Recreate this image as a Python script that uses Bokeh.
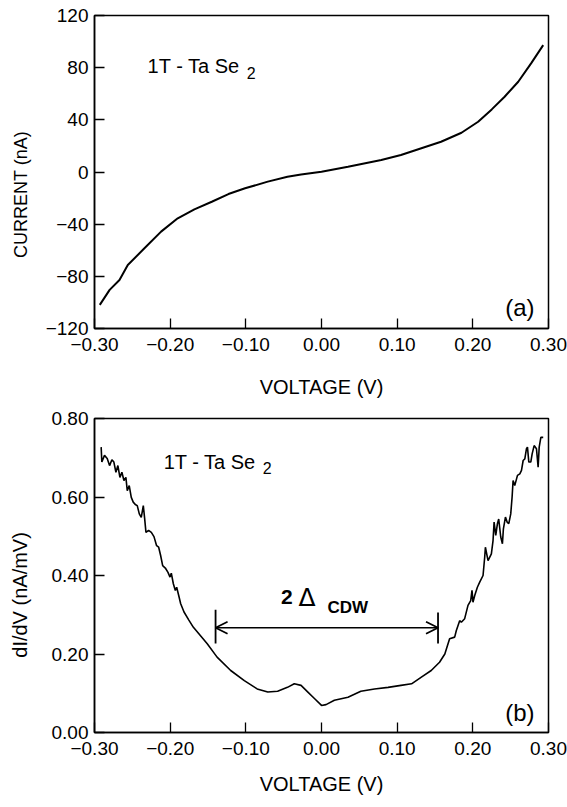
from bokeh.plotting import figure
from bokeh.layouts import column
from bokeh.models import Range1d, FixedTicker, Label, Arrow, OpenHead
from bokeh.embed import file_html
from bokeh.resources import INLINE

# ---------------- data ----------------
iv_voltage = [-0.293, -0.280, -0.267, -0.256, -0.234, -0.212, -0.190, -0.168, -0.145,
              -0.123, -0.101, -0.071, -0.045, -0.027, 0.000, 0.035, 0.079, 0.105,
              0.132, 0.158, 0.185, 0.207, 0.225, 0.242, 0.260, 0.277, 0.293]
iv_current = [-101.9, -90.4, -82.8, -71.3, -58.5, -45.7, -35.5, -28.6, -22.8,
              -16.9, -12.5, -7.4, -3.6, -2.0, 0.2, 4.0, 9.2, 13.0,
              18.2, 23.2, 30.1, 38.5, 48.0, 57.7, 69.2, 83.3, 97.3]

didv_voltage = [-0.2912, -0.2903, -0.2868, -0.2832, -0.2801, -0.2770, -0.2744, -0.2717,
                -0.2691, -0.2664, -0.2638, -0.2611, -0.2585, -0.2567, -0.2541, -0.2514,
                -0.2488, -0.2461, -0.2435, -0.2408, -0.2382, -0.2355, -0.2338, -0.2320,
                -0.2285, -0.2249, -0.2214, -0.2179, -0.2152, -0.2126, -0.2099, -0.2064,
                -0.2029, -0.2002, -0.1985, -0.1958, -0.1932, -0.1914, -0.1887, -0.1861,
                -0.1817, -0.1755, -0.1693, -0.151, -0.138, -0.120, -0.102, -0.085,
                -0.071, -0.058, -0.045, -0.036, -0.027, -0.018, -0.009, 0.000,
                0.006, 0.017, 0.035, 0.052, 0.070, 0.088, 0.105, 0.119,
                0.132, 0.145, 0.156, 0.163, 0.1693, 0.1760, 0.1782, 0.1826,
                0.1848, 0.1892, 0.1936, 0.1972, 0.1989, 0.2002, 0.2025, 0.2060,
                0.2091, 0.2135, 0.2157, 0.2166, 0.2201, 0.2245, 0.2267, 0.2281,
                0.2303, 0.2325, 0.2342, 0.2369, 0.2391, 0.2404, 0.2431, 0.2453,
                0.2475, 0.2501, 0.2519, 0.2532, 0.2554, 0.2590, 0.2621, 0.2643,
                0.2665, 0.2687, 0.2709, 0.2722, 0.2740, 0.2766, 0.2784, 0.2810,
                0.2841, 0.2863, 0.2877, 0.2899, 0.2930]
didv_conductance = [0.727, 0.689, 0.706, 0.698, 0.680, 0.695, 0.689, 0.663,
                    0.680, 0.650, 0.663, 0.642, 0.650, 0.616, 0.629, 0.599,
                    0.587, 0.581, 0.578, 0.557, 0.548, 0.578, 0.547, 0.510,
                    0.515, 0.510, 0.499, 0.476, 0.472, 0.451, 0.425, 0.419,
                    0.408, 0.396, 0.406, 0.379, 0.362, 0.370, 0.349, 0.328,
                    0.307, 0.287, 0.268, 0.226, 0.192, 0.158, 0.132, 0.111,
                    0.103, 0.105, 0.115, 0.124, 0.120, 0.103, 0.086, 0.069,
                    0.071, 0.082, 0.090, 0.105, 0.111, 0.115, 0.120, 0.124,
                    0.141, 0.158, 0.179, 0.200, 0.239, 0.243, 0.260, 0.285,
                    0.281, 0.290, 0.324, 0.336, 0.362, 0.332, 0.349, 0.370,
                    0.383, 0.400, 0.447, 0.472, 0.438, 0.455, 0.489, 0.536,
                    0.502, 0.532, 0.544, 0.498, 0.481, 0.519, 0.549, 0.536,
                    0.532, 0.557, 0.600, 0.642, 0.629, 0.655, 0.659, 0.668,
                    0.693, 0.697, 0.723, 0.727, 0.689, 0.689, 0.710, 0.731,
                    0.723, 0.676, 0.727, 0.752, 0.752]

x_ticks = [-0.3, -0.2, -0.1, 0.0, 0.1, 0.2, 0.3]
x_tick_labels = ["\u22120.30", "\u22120.20", "\u22120.10", "0.00", "0.10", "0.20", "0.30"]
iv_y_ticks = [-120, -80, -40, 0, 40, 80, 120]
iv_y_tick_labels = ["\u2212120", "\u221280", "\u221240", "0", "40", "80", "120"]
didv_y_ticks = [0.0, 0.2, 0.4, 0.6, 0.8]
didv_y_tick_labels = ["0.00", "0.20", "0.40", "0.60", "0.80"]

gap_edges = [-0.14, 0.154]
gap_level = 0.267
gap_bar_low = [0.227, 0.227]
gap_bar_high = [0.313, 0.306]

FONT = "Liberation Sans"
NB = "\u00a0"


def style(p, yticks, ylabels, xlabel_standoff, ylabel_standoff, ylabel_size):
    p.xgrid.visible = False
    p.ygrid.visible = False
    p.outline_line_color = "black"
    p.outline_line_width = 1.5
    p.background_fill_color = "white"
    p.border_fill_color = "white"
    for ax in (p.xaxis[0], p.yaxis[0]):
        ax.axis_line_width = 1.5
        ax.axis_line_color = "black"
        ax.major_tick_in = 10
        ax.major_tick_out = 0
        ax.major_tick_line_width = 1.3
        ax.minor_tick_line_color = None
        ax.major_label_text_font = FONT
        ax.major_label_text_font_size = "19px"
        ax.major_label_text_color = "black"
        ax.axis_label_text_font = FONT
        ax.axis_label_text_font_size = "20px"
        ax.axis_label_text_font_style = "normal"
        ax.axis_label_text_color = "black"
    p.xaxis.ticker = FixedTicker(ticks=x_ticks)
    p.xaxis.major_label_overrides = dict(zip(x_ticks, x_tick_labels))
    p.xaxis.major_label_standoff = 9
    p.xaxis.axis_label_standoff = xlabel_standoff
    p.yaxis.ticker = FixedTicker(ticks=yticks)
    p.yaxis.major_label_overrides = dict(zip(yticks, ylabels))
    p.yaxis.major_label_standoff = 6
    p.yaxis.axis_label_standoff = ylabel_standoff
    p.yaxis.axis_label_text_font_size = ylabel_size


def lab(p, x, y, text, size, **kw):
    p.add_layout(Label(x=x, y=y, text=text, text_font=kw.pop("font", FONT),
                       text_font_size=size, text_color="black",
                       text_baseline="alphabetic", **kw))


# ---------------- panel (a) ----------------
p1 = figure(width=567, height=405, output_backend="svg", toolbar_location=None,
            x_range=Range1d(-0.3, 0.3), y_range=Range1d(-120, 120),
            min_border_left=94, min_border_right=19, min_border_top=15, min_border_bottom=77,
            x_axis_label="VOLTAGE (V)", y_axis_label="CURRENT (nA)" + NB * 9)
style(p1, iv_y_ticks, iv_y_tick_labels, 22, 12, "18px")
p1.line(iv_voltage, iv_current, line_color="black", line_width=2)
lab(p1, -0.2298, 81.2, "1T - Ta Se", "20px")
lab(p1, -0.0987, 75.9, "2", "16px")
lab(p1, 0.2815, -104.2, "(a)", "24px", text_align="right")

# ---------------- panel (b) ----------------
p2 = figure(width=567, height=402, output_backend="svg", toolbar_location=None,
            x_range=Range1d(-0.3, 0.3), y_range=Range1d(0.0, 0.8),
            min_border_left=94, min_border_right=19, min_border_top=13, min_border_bottom=75,
            x_axis_label="VOLTAGE (V)", y_axis_label="dI/dV (nA/mV)" + NB * 7)
style(p2, didv_y_ticks, didv_y_tick_labels, 15, 18, "20px")
p2.line(didv_voltage, didv_conductance, line_color="black", line_width=1.6)
lab(p2, -0.2086, 0.688, "1T - Ta Se", "20px")
lab(p2, -0.0775, 0.675, "2", "16px")
lab(p2, 0.2815, 0.051, "(b)", "24px", text_align="right")
# 2 Delta_CDW
lab(p2, -0.0536, 0.344, "2", "21px", text_font_style="bold")
lab(p2, -0.0305, 0.344, "\u0394", "25px", font="DejaVu Sans")
lab(p2, 0.0080, 0.318, "CDW", "17px", text_font_style="bold")
p2.add_layout(Arrow(x_start=gap_edges[0], y_start=gap_level, x_end=gap_edges[1], y_end=gap_level,
                    line_color="black", line_width=1.5,
                    start=OpenHead(size=12, line_width=1.8, line_color="black"),
                    end=OpenHead(size=12, line_width=1.8, line_color="black")))
p2.segment(x0=gap_edges, y0=gap_bar_low, x1=gap_edges, y1=gap_bar_high,
           line_color="black", line_width=1.8)

layout = column(p1, p2)
open("out.html", "w").write(file_html(layout, INLINE))
